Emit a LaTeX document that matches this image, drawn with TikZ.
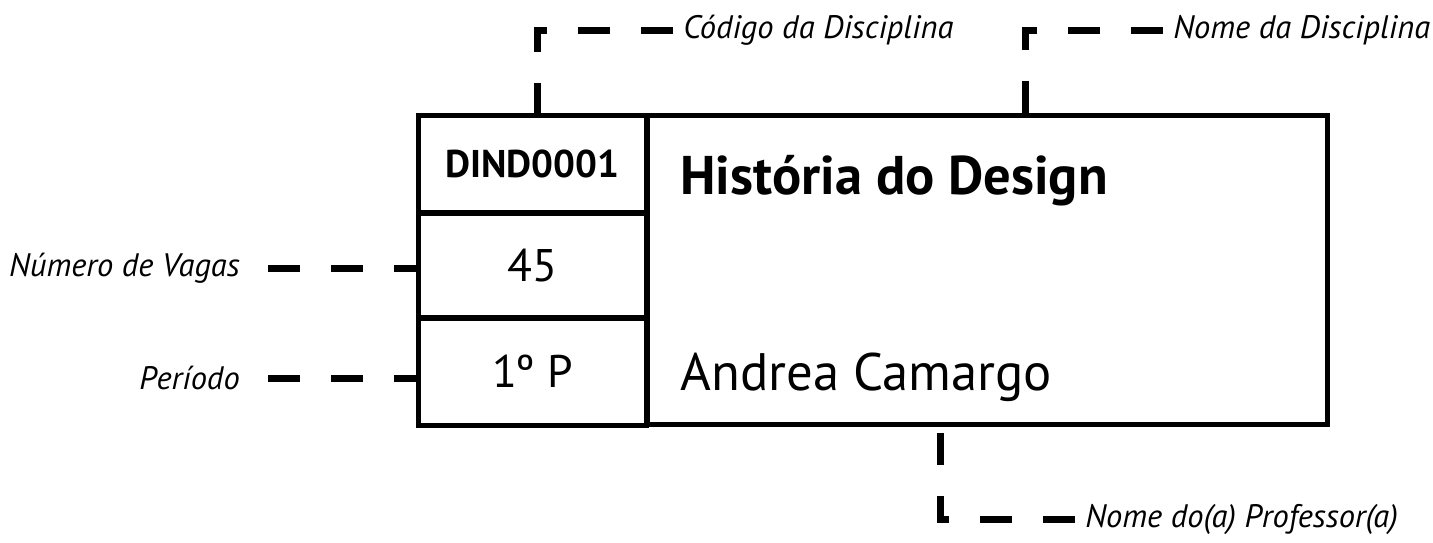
\documentclass[tikz,border=0pt]{standalone}
\usepackage{fontspec}
\setmainfont{PT Sans}
\usepackage{tikz}

\tikzset{
  cell/.style = {draw, line width=0.1cm, inner sep=0pt},
  leader/.style = {line width=0.14cm, dash pattern=on 0.64cm off 0.62cm},
  lbl/.style = {font=\fontsize{18.5}{22}\selectfont\itshape, inner sep=0.2cm},
  lblleft/.style = {lbl, anchor=east, inner xsep=0.56cm}
}

\begin{document}
\begin{tikzpicture}[x=0.02cm, y=-0.02cm]
        \useasboundingbox (0,0) rectangle (1433,542);

        % cells of the card
        \node [cell, minimum width=4.58cm, minimum height=1.96cm] (code) at (532.5,164) {};
        \node [cell, minimum width=4.58cm, minimum height=2.1cm] (vagas) at (532.5,265.5) {};
        \node [cell, minimum width=4.58cm, minimum height=2.14cm] (periodo) at (532.5,371.5) {};
        \node [cell, minimum width=13.62cm, minimum height=6.2cm] (nome) at (987.5,270) {};

        % texts in the cells
        \node [font=\fontsize{22}{26}\selectfont\bfseries] (codetxt) at (code.center) {DIND0001};
        \node [font=\fontsize{26}{30}\selectfont] (vagastxt) at (vagas.center) {45};
        \node [font=\fontsize{26}{30}\selectfont] (periodotxt) at (periodo.center) {1º P};
        \node [font=\fontsize{31}{36}\selectfont\bfseries, anchor=base west, inner sep=0pt] (titulo) at (680,194) {História do Design};
        \node [font=\fontsize{30}{34}\selectfont, anchor=base west, inner sep=0pt] (prof) at (680,390) {Andrea Camargo};

        % labels
        \node [lbl, anchor=west] (lblcode) at (673,30) {Código da Disciplina};
        \node [lbl, anchor=west] (lblnome) at (1163,30) {Nome da Disciplina};
        \node [lblleft] (lblvagas) at (268,268) {Número de Vagas};
        \node [lblleft] (lblperiodo) at (268,378) {Período};
        \node [lbl, anchor=west] (lblprof) at (1075,519) {Nome do(a) Professor(a)};

        \coordinate (codetop) at (537,115);
        \coordinate (nometop) at (1025,115);
        \coordinate (profbot) at (940,425);

        % leader lines
        \draw [leader] (lblcode.west) -| (codetop);
        \draw [leader] (lblnome.west) -| (nometop);
        \draw [leader] (lblvagas.east) -- (vagas.west |- lblvagas.east);
        \draw [leader] (lblperiodo.east) -- (periodo.west |- lblperiodo.east);
        \draw [leader] (lblprof.west) -| (profbot);
\end{tikzpicture}
\end{document}
